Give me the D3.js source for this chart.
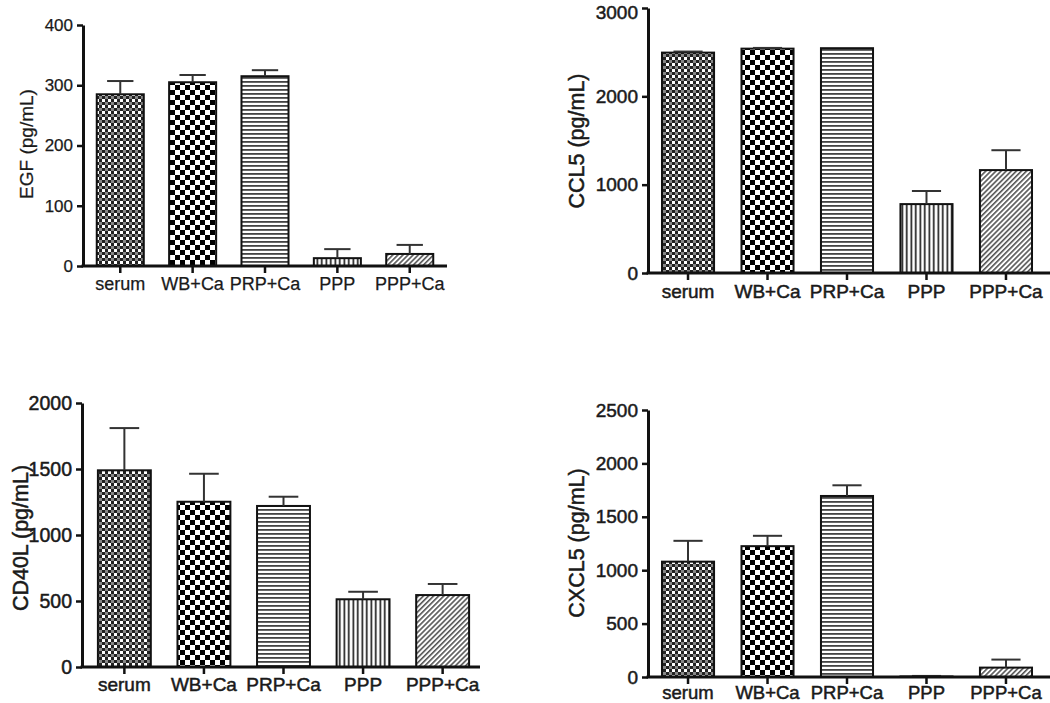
<!DOCTYPE html>
<html><head><meta charset="utf-8">
<script src="https://cdn.jsdelivr.net/npm/d3@7"></script>
<style>
html,body{margin:0;padding:0;background:#fff;}
svg{display:block;font-family:"Liberation Sans",Arial,sans-serif;}
</style></head>
<body>
<svg id="chart" width="1050" height="703"></svg>
<script>
const categories = ["serum", "WB+Ca", "PRP+Ca", "PPP", "PPP+Ca"];

const egfMean = [285, 305, 315, 13, 20];
const egfErr  = [22, 12, 10, 15, 15];
const egfTicks = [0, 100, 200, 300, 400];

const ccl5Mean = [2495, 2540, 2545, 780, 1165];
const ccl5Err  = [12, 8, 0, 148, 225];
const ccl5Ticks = [0, 1000, 2000, 3000];

const cd40lMean = [1490, 1252, 1220, 513, 545];
const cd40lErr  = [320, 212, 70, 57, 84];
const cd40lTicks = [0, 500, 1000, 1500, 2000];

const cxcl5Mean = [1080, 1225, 1695, 5, 88];
const cxcl5Err  = [195, 97, 100, 5, 75];
const cxcl5Ticks = [0, 500, 1000, 1500, 2000, 2500];

const svg = d3.select("#chart");
const defs = svg.append("defs");

function pat(id, w, h, build, transform) {
  const p = defs.append("pattern").attr("id", id).attr("patternUnits", "userSpaceOnUse")
    .attr("width", w).attr("height", h);
  if (transform) p.attr("patternTransform", transform);
  p.append("rect").attr("width", w).attr("height", h).attr("fill", "#fff");
  build(p);
}
pat("pSerum", 6, 6, p => {
  p.append("rect").attr("x", 0).attr("y", 0).attr("width", 3).attr("height", 3).attr("fill", "#222");
  p.append("rect").attr("x", 3).attr("y", 3).attr("width", 3).attr("height", 3).attr("fill", "#222");
  p.append("rect").attr("x", 3).attr("y", 0).attr("width", 3).attr("height", 3).attr("fill", "#888");
});
pat("pWB", 10, 10, p => {
  p.append("rect").attr("x", 0).attr("y", 0).attr("width", 5).attr("height", 5).attr("fill", "#000");
  p.append("rect").attr("x", 5).attr("y", 5).attr("width", 5).attr("height", 5).attr("fill", "#000");
});
pat("pPRP", 8, 4, p => {
  p.append("rect").attr("x", 0).attr("y", 1).attr("width", 8).attr("height", 1.8).attr("fill", "#444");
});
pat("pPPP", 4.5, 8, p => {
  p.append("rect").attr("x", 1.5).attr("y", 0).attr("width", 1.6).attr("height", 8).attr("fill", "#111");
});
pat("pPPPCa", 3.6, 8, p => {
  p.append("rect").attr("x", 0).attr("y", 0).attr("width", 1.6).attr("height", 8).attr("fill", "#555");
}, "rotate(45)");
const fills = ["url(#pSerum)", "url(#pWB)", "url(#pPRP)", "url(#pPPP)", "url(#pPPPCa)"];

function styleText(sel, fs, sw) {
  sel.attr("font-size", fs).attr("fill", "#1a1a1a")
    .attr("stroke", "#1a1a1a").attr("stroke-width", sw)
    .attr("font-family", "'Liberation Sans', Arial, sans-serif");
}

function panel(cfg) {
  const g = svg.append("g");
  const x = d3.scaleBand().domain(categories)
    .range([cfg.ax, cfg.xEnd]).paddingInner(cfg.pin).paddingOuter(cfg.pout);
  const y = d3.scaleLinear().domain([0, cfg.max]).range([cfg.y0, cfg.yTop]);
  const bw = x.bandwidth();

  g.selectAll("rect.bar").data(cfg.mean).enter().append("rect")
    .attr("class", "bar")
    .attr("x", (d, i) => x(categories[i]))
    .attr("y", d => y(d))
    .attr("width", bw)
    .attr("height", d => y(0) - y(d))
    .attr("fill", (d, i) => fills[i])
    .attr("stroke", "#111").attr("stroke-width", 2);

  const capW = bw * 0.56;
  cfg.mean.forEach((m, i) => {
    const e = cfg.err[i];
    if (e <= 0) return;
    const cx = x(categories[i]) + bw / 2;
    g.append("line").attr("x1", cx).attr("x2", cx).attr("y1", y(m)).attr("y2", y(m + e))
      .attr("stroke", "#333").attr("stroke-width", 2);
    g.append("line").attr("x1", cx - capW / 2).attr("x2", cx + capW / 2).attr("y1", y(m + e)).attr("y2", y(m + e))
      .attr("stroke", "#333").attr("stroke-width", 2);
  });

  const ya = g.append("g").attr("transform", `translate(${cfg.ax},0)`)
    .call(d3.axisLeft(y).tickValues(cfg.ticks).tickFormat(d3.format("d")).tickSize(6).tickSizeOuter(0).tickPadding(4));
  ya.select(".domain").attr("stroke", "#111").attr("stroke-width", 3);
  ya.selectAll(".tick line").attr("stroke", "#111").attr("stroke-width", 2.5);
  styleText(ya.selectAll(".tick text"), cfg.tickFs, cfg.sw);
  if (cfg.topNudge) {
    ya.selectAll(".tick text").filter(d => d === cfg.max).attr("y", cfg.topNudge);
  }

  const xa = g.append("g").attr("transform", `translate(0,${cfg.y0})`)
    .call(d3.axisBottom(x).tickSize(7).tickSizeOuter(0).tickPadding(cfg.xPad));
  xa.select(".domain").attr("stroke", "#111").attr("stroke-width", 3)
    .attr("d", `M${cfg.ax - 1.5},0H${cfg.axEnd}`);
  xa.selectAll(".tick line").attr("stroke", "#111").attr("stroke-width", 2.5);
  styleText(xa.selectAll(".tick text"), cfg.xFs, cfg.sw);

  const lab = g.append("text")
    .attr("transform", `translate(${cfg.labX},${cfg.labY}) rotate(-90)`)
    .attr("text-anchor", "middle").attr("dominant-baseline", "middle")
    .text(cfg.label);
  styleText(lab, cfg.labFs, cfg.sw);
}

panel({ ax: 83, xEnd: 447, axEnd: 447, pin: 0.35, pout: 0.19, y0: 266, yTop: 25, max: 400,
  ticks: egfTicks, mean: egfMean, err: egfErr, tickFs: 17, xFs: 18, xPad: 4, sw: 0.25,
  label: "EGF (pg/mL)", labX: 28, labY: 144, labFs: 19 });

panel({ ax: 648, xEnd: 1046, axEnd: 1050, pin: 0.345, pout: 0.176, y0: 273, yTop: 8, max: 3000,
  ticks: ccl5Ticks, mean: ccl5Mean, err: ccl5Err, tickFs: 19, xFs: 19, xPad: 5, sw: 0.5, topNudge: 4,
  label: "CCL5 (pg/mL)", labX: 578, labY: 141, labFs: 21.5 });

panel({ ax: 82, xEnd: 485, axEnd: 480, pin: 0.335, pout: 0.2, y0: 667, yTop: 403, max: 2000,
  ticks: cd40lTicks, mean: cd40lMean, err: cd40lErr, tickFs: 19.5, xFs: 19, xPad: 4, sw: 0.5,
  label: "CD40L (pg/mL)", labX: 22, labY: 538, labFs: 21.5 });

panel({ ax: 648, xEnd: 1046, axEnd: 1050, pin: 0.345, pout: 0.176, y0: 677, yTop: 410, max: 2500,
  ticks: cxcl5Ticks, mean: cxcl5Mean, err: cxcl5Err, tickFs: 19, xFs: 18.5, xPad: 2, sw: 0.5,
  label: "CXCL5 (pg/mL)", labX: 578, labY: 543, labFs: 21.5 });
</script>
</body></html>
